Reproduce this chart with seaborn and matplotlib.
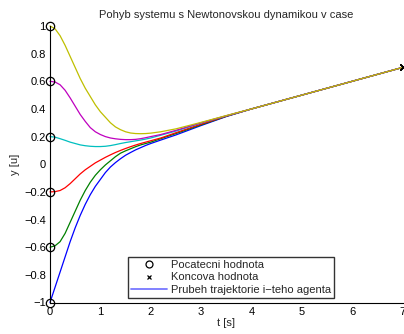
import matplotlib
matplotlib.use("Agg")
import matplotlib.pyplot as plt
from matplotlib.lines import Line2D
import seaborn as sns
import pandas as pd

sns.set_theme(style="white")
plt.rcParams['font.family'] = ['Liberation Sans', 'DejaVu Sans']
plt.rcParams['axes.unicode_minus'] = True

# time samples (s)
t = [0.0, 0.1, 0.2, 0.3, 0.4, 0.5, 0.6, 0.7, 0.8, 0.9, 1.0, 1.1, 1.2, 1.3, 1.4, 1.5,
     1.6, 1.7, 1.8, 1.9, 2.0, 2.2, 2.5, 3.0, 3.5, 4.0, 5.0, 6.0, 7.0]

# agent trajectories
agent_blue = [-1.0, -0.89, -0.78, -0.67, -0.56, -0.46, -0.37, -0.29, -0.22, -0.16, -0.11,
              -0.06, -0.02, 0.012, 0.04, 0.065, 0.085, 0.104, 0.12, 0.136, 0.15,
              0.175, 0.212, 0.28, 0.345, 0.4, 0.5, 0.6, 0.7]
agent_green = [-0.6, -0.59, -0.56, -0.5, -0.42, -0.34, -0.26, -0.19, -0.13, -0.08, -0.04,
               -0.005, 0.025, 0.055, 0.08, 0.097, 0.112, 0.127, 0.14, 0.15, 0.16,
               0.185, 0.222, 0.285, 0.347, 0.4, 0.5, 0.6, 0.7]
agent_red = [-0.2, -0.198, -0.19, -0.17, -0.14, -0.105, -0.07, -0.04, -0.015, 0.01, 0.03,
             0.05, 0.068, 0.085, 0.10, 0.114, 0.127, 0.139, 0.15, 0.16, 0.17,
             0.19, 0.228, 0.29, 0.348, 0.4, 0.5, 0.6, 0.7]
agent_cyan = [0.2, 0.196, 0.185, 0.173, 0.16, 0.15, 0.14, 0.134, 0.13, 0.128, 0.128,
              0.13, 0.135, 0.142, 0.15, 0.157, 0.163, 0.169, 0.175, 0.182, 0.19,
              0.21, 0.24, 0.298, 0.35, 0.4, 0.5, 0.6, 0.7]
agent_magenta = [0.6, 0.595, 0.575, 0.535, 0.48, 0.42, 0.36, 0.31, 0.265, 0.235, 0.215,
                 0.2, 0.19, 0.184, 0.18, 0.178, 0.178, 0.18, 0.185, 0.192, 0.2,
                 0.215, 0.245, 0.30, 0.351, 0.4, 0.5, 0.6, 0.7]
agent_yellow = [1.0, 0.98, 0.93, 0.86, 0.78, 0.70, 0.62, 0.55, 0.49, 0.43, 0.38,
                0.34, 0.30, 0.27, 0.25, 0.235, 0.226, 0.222, 0.221, 0.222, 0.225,
                0.235, 0.256, 0.303, 0.352, 0.4, 0.5, 0.6, 0.7]

agent_names = ["a1", "a2", "a3", "a4", "a5", "a6"]
agent_colors = ["#0000ff", "#008000", "#ff0000", "#00bfbf", "#bf00bf", "#bfbf00"]

title = "Pohyb systemu s Newtonovskou dynamikou v case"
xlabel = "t [s]"
ylabel = "y [u]"
legend_labels = ["Pocatecni hodnota", "Koncova hodnota", "Prubeh trajektorie i\u2212teho agenta"]
xticks = [0, 1, 2, 3, 4, 5, 6, 7]
yticks = [-1, -0.8, -0.6, -0.4, -0.2, 0, 0.2, 0.4, 0.6, 0.8, 1]

series = [agent_blue, agent_green, agent_red, agent_cyan, agent_magenta, agent_yellow]
rows = []
for name, ys in zip(agent_names, series):
    for ti, yi in zip(t, ys):
        rows.append({"t": ti, "y": yi, "agent": name})
df = pd.DataFrame(rows)

starts = pd.DataFrame({"t": [t[0]] * 6, "y": [s[0] for s in series]})
ends = pd.DataFrame({"t": [t[-1]] * 6, "y": [s[-1] for s in series]})

fig = plt.figure(figsize=(4.04, 3.34), dpi=100)
ax = fig.add_axes([50 / 404, 1 - 302.5 / 334, 352.5 / 404, (302.5 - 26) / 334])

sns.lineplot(data=df, x="t", y="y", hue="agent", palette=agent_colors,
             linewidth=0.9, legend=False, ax=ax, clip_on=False)
ax.plot(starts["t"], starts["y"], linestyle="none", marker="o", markersize=6,
        markerfacecolor="none", markeredgecolor="black", markeredgewidth=0.9, clip_on=False, zorder=5)
ax.plot(ends["t"], ends["y"], linestyle="none", marker="x", markersize=4,
        color="black", markeredgewidth=0.9, clip_on=False, zorder=5)

ax.set_xlim(0, 7)
ax.set_ylim(-1, 1)
ax.set_xticks(xticks)
ax.set_yticks(yticks)
ax.set_yticklabels([("\u2212" if v < 0 else "") + ("%g" % abs(v)) for v in yticks])
ax.tick_params(direction="in", length=3, width=0.8, labelsize=8, colors="black", pad=3)
for s in ["top", "right"]:
    ax.spines[s].set_visible(False)
for s in ["left", "bottom"]:
    ax.spines[s].set_color("black")
    ax.spines[s].set_linewidth(0.8)

ax.set_title(title, fontsize=8, pad=6)
ax.set_xlabel(xlabel, fontsize=8, labelpad=1)
ax.set_ylabel(ylabel, fontsize=8, labelpad=3)

handles = [
    Line2D([], [], linestyle="none", marker="o", markersize=5, markerfacecolor="none",
           markeredgecolor="black", markeredgewidth=0.9),
    Line2D([], [], linestyle="none", marker="x", markersize=3.5, color="black", markeredgewidth=0.9),
    Line2D([], [], color="#7777ff", linewidth=1.3),
]
leg = ax.legend(handles, legend_labels, loc="lower left", bbox_to_anchor=(128 / 404, 1 - 298 / 334),
                bbox_transform=fig.transFigure, fontsize=8, frameon=True, fancybox=False,
                edgecolor="black", borderpad=0.3, labelspacing=0.2, handlelength=3.2,
                handletextpad=0.35, borderaxespad=0)
leg.get_frame().set_linewidth(1.0)

fig.savefig("out.png", dpi=100)
